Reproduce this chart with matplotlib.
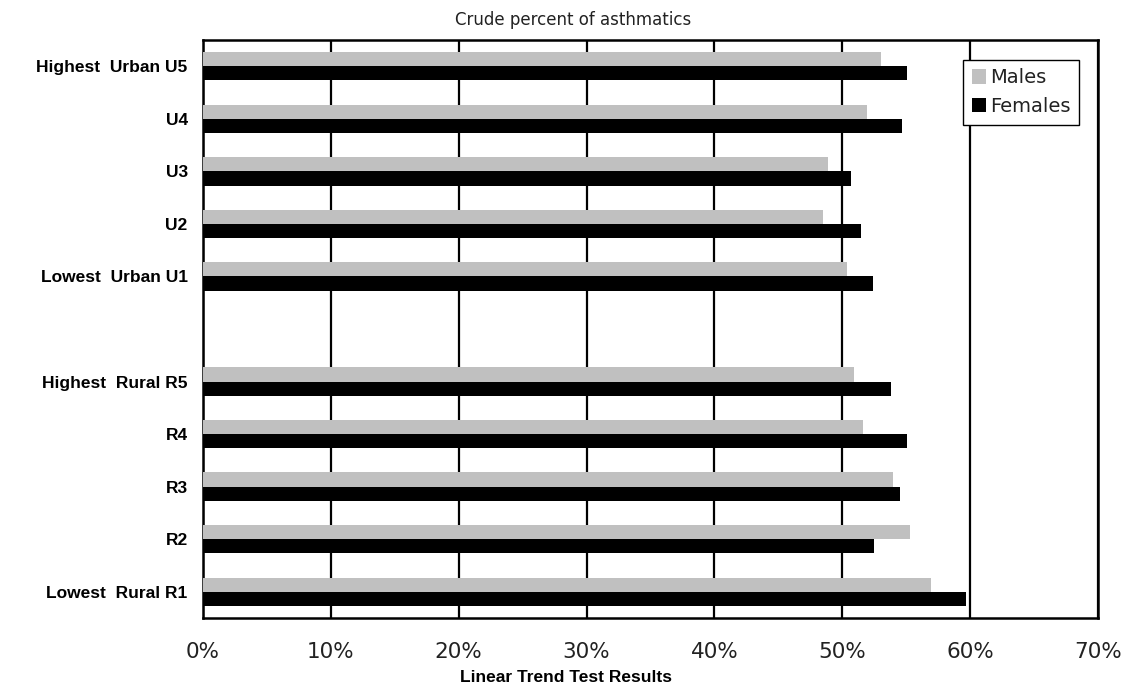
import matplotlib
matplotlib.use("Agg")
import matplotlib.pyplot as plt
import numpy as np

categories = ["Highest  Urban U5", "U4", "U3", "U2", "Lowest  Urban U1",
              "Highest  Rural R5", "R4", "R3", "R2", "Lowest  Rural R1"]
males = [53.0, 51.9, 48.9, 48.5, 50.4, 50.9, 51.6, 54.0, 55.3, 56.9]
females = [55.1, 54.7, 50.7, 51.5, 52.4, 53.8, 55.1, 54.5, 52.5, 59.7]
xticks = [0, 10, 20, 30, 40, 50, 60, 70]
xticklabels = ["0%", "10%", "20%", "30%", "40%", "50%", "60%", "70%"]

plt.rcParams['font.family'] = ['DejaVu Sans']

fig = plt.figure(figsize=(11.25, 6.9), dpi=100)
ax = fig.add_axes([203/1125, 72/690, 895/1125, 578/690])

# slot positions with a blank slot between urban and rural groups
pos = np.array([0, 1, 2, 3, 4, 6, 7, 8, 9, 10], dtype=float)
h = 0.27
ax.barh(pos - h/2, males, height=h, color="#c0c0c0", label="Males", zorder=3)
ax.barh(pos + h/2, females, height=h, color="#000000", label="Females", zorder=3)

ax.set_xlim(0, 70)
ax.set_ylim(10.5, -0.5)
ax.set_xticks(xticks)
ax.set_xticklabels(xticklabels, fontsize=15.5, color="#222222")
ax.set_yticks(pos)
ax.set_yticklabels(categories, fontsize=12.5, fontweight="bold", family="Liberation Sans")
ax.tick_params(axis="x", length=0, pad=17)
ax.tick_params(axis="y", length=0, pad=11)

ax.set_axisbelow(True)
ax.xaxis.grid(True, color="black", linewidth=1.6)
for s in ax.spines.values():
    s.set_linewidth(1.8)
    s.set_color("black")

fig.text(573/1125, 1 - 20/690, "Crude percent of asthmatics", ha="center", va="center",
         fontsize=12, color="#222222")
fig.text(566/1125, 1 - 677/690, "Linear Trend Test Results", ha="center", va="center",
         fontsize=12.5, fontweight="bold", family="Liberation Sans")

leg = ax.legend(loc="upper left", bbox_to_anchor=(0.849, 0.966), borderaxespad=0,
                fancybox=False, framealpha=1, edgecolor="black",
                prop={"size": 14, "family": "DejaVu Sans"},
                handlelength=0.75, handleheight=0.75, handletextpad=0.2,
                borderpad=0.45, labelspacing=0.5)
leg.get_frame().set_linewidth(1.0)
for t in leg.get_texts():
    t.set_color("#222222")
leg.set_zorder(5)

fig.savefig("out.png", dpi=100)
